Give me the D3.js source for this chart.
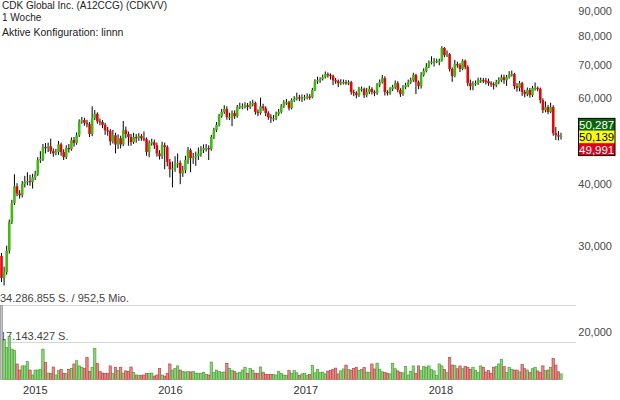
<!DOCTYPE html>
<html><head><meta charset="utf-8">
<script src="https://cdn.jsdelivr.net/npm/d3@7"></script>
<style>body{margin:0;background:#fff} svg{display:block;font-family:Arial,"Liberation Sans",sans-serif}</style>
</head><body><svg id="c" width="620" height="400"></svg>
<script>
const titleLines = ["CDK Global Inc. (A12CCG) (CDKVV)", "1 Woche"];
const configLine = "Aktive Konfiguration: linnn";
const startDate = "2014-10-03";
const firstOpen = 28.6;
const closes = [
25.8,26.5,29.3,33.5,36.6,39.6,38.3,38.0,40.0,40.4,
40.6,40.4,41.3,41.9,44.8,45.0,47.6,47.4,47.8,46.7,
46.2,46.5,48.2,46.5,45.4,47.4,47.1,49.2,48.5,50.3,
53.7,54.0,53.3,53.0,50.6,54.5,55.6,53.7,53.5,52.8,
51.5,51.3,48.9,50.3,48.2,49.6,48.2,51.5,50.6,49.9,
48.7,49.9,49.6,50.1,49.6,49.4,46.5,48.5,48.7,48.0,
46.2,45.6,48.0,47.6,44.4,42.9,43.1,43.9,44.2,42.1,
42.7,44.8,46.9,45.2,45.4,45.6,46.2,46.9,47.4,47.4,
47.1,49.9,51.5,52.8,55.0,56.1,56.9,54.8,54.8,55.8,
55.0,57.4,57.6,57.6,57.9,57.4,58.2,58.5,56.1,55.8,
57.6,57.1,55.8,54.8,54.5,54.5,55.6,56.1,57.6,58.7,
58.7,57.1,59.3,59.6,60.1,59.8,59.8,60.1,60.3,60.1,
62.2,64.8,65.1,65.4,66.0,67.0,66.7,66.4,65.1,64.8,
64.2,64.5,64.5,64.4,64.5,61.6,61.3,60.7,62.5,62.5,
60.7,61.6,62.5,61.6,61.3,63.6,64.5,65.7,61.6,61.3,
62.5,63.0,64.2,62.2,61.0,63.0,63.6,64.5,65.1,66.7,
64.5,63.3,66.7,68.0,69.3,70.6,71.0,71.0,71.3,71.3,
75.7,73.2,73.5,68.6,66.4,70.2,69.9,68.6,71.3,69.3,
64.2,63.3,63.9,64.2,65.1,65.1,65.0,64.8,64.2,63.9,
63.6,64.5,65.1,66.0,65.1,66.0,67.0,67.0,63.3,62.8,
64.2,61.6,61.0,62.2,60.7,62.8,62.8,62.5,59.3,56.6,
57.4,56.1,57.4,50.8,50.3,50.1,50.139];
const highs = [
29.0,27.2,30.0,33.9,37.2,41.9,40.2,38.9,40.6,41.6,
42.3,41.8,42.0,42.6,45.4,46.7,48.3,48.5,48.6,49.5,
47.3,47.2,49.0,48.6,47.1,48.0,48.3,49.8,49.9,51.0,
54.2,54.8,54.6,54.1,53.5,57.6,56.6,56.0,54.4,54.0,
53.3,52.3,51.8,51.6,50.9,50.5,50.2,53.8,52.4,51.2,
50.6,50.9,50.6,50.8,50.6,51.2,49.8,49.1,49.5,49.3,
48.6,46.9,48.8,48.6,48.0,45.0,44.5,45.6,46.2,44.7,
43.6,45.7,47.6,47.3,46.3,46.6,47.5,47.8,48.2,48.3,
48.0,50.4,52.1,53.5,55.6,56.9,57.9,57.6,55.9,56.5,
56.5,58.0,58.6,58.4,58.7,58.5,59.0,59.4,58.9,56.8,
60.0,58.3,57.6,56.3,55.5,55.3,56.2,56.9,58.2,59.3,
59.6,59.1,59.8,60.4,61.4,60.8,60.9,60.8,61.2,61.0,
62.8,65.4,66.2,66.0,66.8,67.8,67.5,67.2,66.8,65.8,
65.3,65.4,65.3,65.2,65.1,64.9,62.3,61.8,63.1,63.2,
62.9,62.8,63.4,63.0,62.1,64.2,65.3,66.7,66.3,62.1,
63.0,63.7,65.0,64.8,62.7,63.6,64.3,65.3,65.9,67.4,
67.1,65.0,67.6,68.8,70.5,71.4,72.8,72.2,72.0,72.0,
76.3,76.0,74.8,73.9,69.1,71.6,71.0,70.5,71.8,71.7,
69.8,65.3,64.8,65.0,65.9,65.9,65.8,65.8,65.6,64.8,
64.5,65.2,66.0,66.8,66.8,66.7,67.9,68.1,67.4,64.2,
64.9,64.6,62.2,62.9,62.8,63.4,64.4,63.2,62.9,59.8,
58.9,58.0,58.6,57.9,52.3,51.3,50.9];
const lows = [
25.3,24.9,26.2,28.9,33.2,36.3,37.8,37.4,37.6,39.4,
39.8,39.7,39.2,40.8,41.6,44.2,44.6,46.2,46.5,46.1,
45.5,45.8,45.9,45.7,44.8,45.0,46.4,46.8,47.7,48.1,
49.9,53.1,52.6,52.2,49.9,50.1,54.0,53.1,52.7,52.0,
50.4,50.2,48.0,48.4,46.2,47.2,47.3,47.8,49.6,47.9,
47.9,48.3,48.6,49.0,49.0,48.9,45.7,45.4,47.9,47.2,
45.5,44.9,45.0,42.9,43.5,41.3,39.4,42.4,43.2,40.0,
41.4,42.1,44.0,42.3,44.0,43.6,44.8,45.5,46.3,46.6,
44.8,46.8,49.4,51.1,52.4,54.6,55.6,54.1,54.0,52.5,
54.3,54.6,56.9,56.8,57.0,56.5,56.9,57.6,55.4,55.0,
55.4,56.4,55.0,54.1,53.3,53.7,54.0,55.1,55.7,57.2,
58.0,56.5,56.8,58.8,59.2,59.0,58.8,59.2,59.5,59.4,
59.8,61.9,64.0,64.3,65.0,65.6,65.9,65.3,63.6,64.0,
63.0,63.6,63.8,63.7,63.6,60.8,60.4,59.8,60.2,61.7,
59.9,60.1,61.0,60.9,60.4,60.8,63.0,64.1,60.6,60.6,
60.8,61.9,62.5,61.5,60.2,60.5,62.4,63.0,64.0,64.6,
61.0,62.4,62.6,66.2,67.5,68.9,70.1,69.4,70.5,69.8,
71.0,72.5,72.6,67.8,64.6,66.0,69.0,67.6,68.2,68.5,
63.3,62.1,62.1,63.4,63.7,64.3,64.2,63.8,63.4,63.1,
62.3,63.0,63.9,64.5,64.0,63.4,65.6,66.2,62.4,61.7,
61.8,60.5,60.1,60.4,60.0,60.2,62.0,61.8,58.4,55.8,
56.0,55.5,55.8,50.2,49.2,49.1,49.3];
// weekly volume, millions of shares
const volumes = [
34.3,18.0,14.8,19.8,14.0,13.3,7.1,4.3,6.2,6.2,
8.2,4.3,2.0,4.3,4.3,4.6,14.0,7.9,2.9,2.6,
5.7,2.0,4.0,4.6,2.6,2.6,4.6,5.1,7.1,8.6,
6.2,5.6,5.1,10.2,3.6,5.6,14.4,7.4,3.6,2.9,
2.6,2.6,6.2,2.6,5.6,4.0,5.6,2.9,3.9,3.6,
5.7,3.1,2.0,1.9,1.9,2.0,2.6,2.6,2.9,1.5,
2.0,5.0,2.0,1.5,2.6,7.1,4.3,5.0,6.2,4.3,
3.6,3.4,3.6,3.4,3.6,2.9,
2.6,2.8,3.2,2.3,2.0,8.0,3.1,4.3,3.6,3.1,
3.4,7.4,5.1,4.0,3.6,2.8,3.2,4.3,5.6,2.8,
5.1,4.0,2.8,2.8,5.7,3.3,2.2,2.3,2.3,2.3,
2.0,3.6,2.8,2.0,1.7,4.0,2.8,4.0,3.0,1.7,
2.5,2.8,1.9,2.2,6.5,3.0,4.6,3.3,3.3,2.5,
3.8,4.1,4.6,5.2,2.5,3.9,4.8,6.6,4.6,4.1,
5.1,5.6,4.1,4.6,5.5,3.3,3.3,7.1,4.8,7.5,
4.6,
3.5,3.1,2.8,2.5,7.4,4.9,3.9,3.1,3.0,5.9,
2.0,3.7,6.2,2.8,6.2,4.0,5.9,5.6,6.2,4.5,
3.9,1.7,7.1,6.2,4.6,3.1,10.2,6.6,6.5,4.9,
6.2,4.9,5.9,5.6,4.6,5.6,4.0,3.1,6.2,5.6,
3.4,4.0,2.8,5.6,5.9,7.1,9.3,5.9,3.1,5.6,
4.6,4.3,4.3,3.4,6.8,4.9,4.3,3.1,4.9,5.6,
3.9,3.1,6.2,4.0,4.3,5.4,9.7,6.6,3.5,2.5];
const volMax = 34.286855;
const volLabels = ["34.286.855 S. / 952,5 Mio.", "17.143.427 S."];
const priceTicks = [20, 30, 40, 60, 70, 80, 90];
const yearTicks = ["2015-01-01", "2016-01-01", "2017-01-01", "2018-01-01"];
const quoteLabels = ["50,287", "50,139", "49,991"];
const quoteValues = [50.287, 50.139, 49.991];

const svg = d3.select("#c");
const parse = d3.utcParse("%Y-%m-%d");
const t0 = parse(startDate);
const data = closes.map((c, i) => ({
  date: d3.utcDay.offset(t0, 7 * i),
  open: i === 0 ? firstOpen : closes[i - 1],
  close: c, high: highs[i], low: lows[i], vol: volumes[i], i
}));

const x = d3.scaleUtc().domain([data[0].date, data[data.length - 1].date]).range([1.5, 561]);
const y = d3.scaleLog().domain([20, 90]).range([332.3, 11]);
const vy = d3.scaleLinear().domain([0, volMax]).range([379.3, 305.3]);

const GREEN = "#44b812", RED = "#de0a0a";

// volume grid lines
svg.append("g").selectAll("line").data([volMax, volMax / 2]).join("line")
  .attr("x1", 0).attr("x2", 576)
  .attr("y1", d => Math.round(vy(d)) + 0.5).attr("y2", d => Math.round(vy(d)) + 0.5)
  .attr("stroke", "#d6d6d6").attr("stroke-width", 1);

svg.append("g").selectAll("text").data(volLabels).join("text")
  .attr("x", 0).attr("y", (d, i) => i === 0 ? 301.5 : 339.5)
  .attr("font-size", 11).attr("fill", "#444").text(d => d);

// volume bars
svg.append("g").selectAll("rect").data(data).join("rect")
  .attr("x", d => x(d.date) - 1.2).attr("width", 2.4)
  .attr("y", d => vy(d.vol)).attr("height", d => vy(0) - vy(d.vol))
  .attr("fill", d => d.i === 0 ? "#c4c4c4" : (d.close >= d.open ? "#8fd47c" : "#e58a8a"))
  .attr("stroke", d => d.i === 0 ? "#8a8a8a" : (d.close >= d.open ? "#3d9a2c" : "#b83838"))
  .attr("stroke-width", 0.6);

// wicks
svg.append("g").selectAll("line").data(data).join("line")
  .attr("x1", d => x(d.date)).attr("x2", d => x(d.date))
  .attr("y1", d => y(d.high)).attr("y2", d => y(d.low))
  .attr("stroke", "#000").attr("stroke-width", 1);

// bodies
svg.append("g").selectAll("rect").data(data).join("rect")
  .attr("x", d => x(d.date) - 1.3).attr("width", 2.6)
  .attr("y", d => y(Math.max(d.open, d.close)))
  .attr("height", d => Math.max(1.2, Math.abs(y(d.open) - y(d.close))))
  .attr("fill", d => d.close >= d.open ? GREEN : RED);

// right price axis
const yAxis = d3.axisLeft(y).tickValues(priceTicks).tickSize(0).tickPadding(0)
  .tickFormat(v => v.toFixed(3).replace(".", ","));
const ga = svg.append("g").attr("transform", "translate(612,0)").call(yAxis);
ga.select(".domain").remove();
ga.selectAll("text").attr("font-size", 11).attr("fill", "#4a4a4a")
  .attr("font-family", "Arial, 'Liberation Sans', sans-serif");

// x axis years
const xAxis = d3.axisBottom(x).tickValues(yearTicks.map(parse)).tickSize(0).tickPadding(0)
  .tickFormat(d3.utcFormat("%Y"));
const gx = svg.append("g").attr("transform", "translate(0,386)").call(xAxis);
gx.select(".domain").remove();
gx.selectAll("text").attr("font-size", 11).attr("fill", "#333")
  .attr("font-family", "Arial, 'Liberation Sans', sans-serif");

// quote boxes
const yc = y(quoteValues[1]) + 1;
const boxH = 12.4;
const boxes = [
  {t: quoteLabels[0], y0: yc - boxH * 1.5, fill: "#0b650b", tc: "#fff"},
  {t: quoteLabels[1], y0: yc - boxH * 0.5, fill: "#ffff00", tc: "#000"},
  {t: quoteLabels[2], y0: yc + boxH * 0.5, fill: "#e2001a", tc: "#fff"}
];
const gq = svg.append("g");
gq.selectAll("rect").data(boxes).join("rect")
  .attr("x", 578.5).attr("width", 36.5).attr("y", d => d.y0).attr("height", boxH)
  .attr("fill", d => d.fill);
gq.append("rect").attr("x", 578.5).attr("width", 36.5).attr("y", boxes[0].y0).attr("height", boxH * 3)
  .attr("fill", "none").attr("stroke", "#000").attr("stroke-width", 1);
gq.selectAll("text").data(boxes).join("text")
  .attr("x", 596.7).attr("y", d => d.y0 + boxH / 2).attr("dy", "0.36em")
  .attr("text-anchor", "middle").attr("font-size", 11.5).attr("fill", d => d.tc).text(d => d.t);

// title texts
svg.append("g").selectAll("text").data(titleLines).join("text")
  .attr("x", 2).attr("y", (d, i) => 9 + i * 11.5).attr("font-size", 10).attr("fill", "#222").text(d => d);
svg.append("text").attr("x", 2).attr("y", 36).attr("font-size", 10.5).attr("fill", "#222").text(configLine);
</script></body></html>
